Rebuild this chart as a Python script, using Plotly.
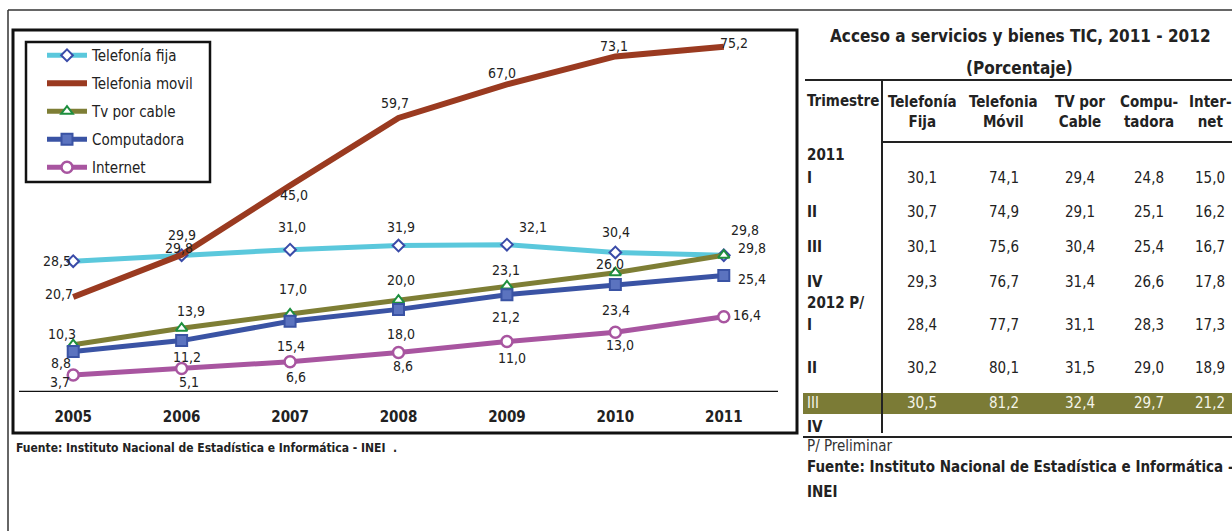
import plotly.graph_objects as go

# ---------------- data ----------------
years = ["2005", "2006", "2007", "2008", "2009", "2010", "2011"]
fija = [28.5, 29.8, 31.0, 31.9, 32.1, 30.4, 29.8]
movil = [20.7, 29.9, 45.0, 59.7, 67.0, 73.1, 75.2]
cable = [10.3, 13.9, 17.0, 20.0, 23.1, 26.0, 29.8]
compu = [8.8, 11.2, 15.4, 18.0, 21.2, 23.4, 25.4]
internet = [3.7, 5.1, 6.6, 8.6, 11.0, 13.0, 16.4]

table_title = "Acceso a servicios y bienes TIC, 2011 - 2012"
table_subtitle = "(Porcentaje)"
table_headers = ["Telefonía<br>Fija", "Telefonia<br>Móvil", "TV por<br>Cable", "Compu-<br>tadora", "Inter-<br>net"]
row_labels = ["2011", "I", "II", "III", "IV", "2012 P/", "I", "II", "III", "IV"]
row_values = [
    None,
    [30.1, 74.1, 29.4, 24.8, 15.0],
    [30.7, 74.9, 29.1, 25.1, 16.2],
    [30.1, 75.6, 30.4, 25.4, 16.7],
    [29.3, 76.7, 31.4, 26.6, 17.8],
    None,
    [28.4, 77.7, 31.1, 28.3, 17.3],
    [30.2, 80.1, 31.5, 29.0, 18.9],
    [30.5, 81.2, 32.4, 29.7, 21.2],
    None,
]
highlight_row = 8

FONT = "Liberation Sans Narrow, Arial Narrow, DejaVu Sans Condensed, sans-serif"

def fmt(v):
    return f"{v:.1f}".replace(".", ",")

# ---------------- layout geometry (reference pixels) ----------------
W, H = 1232, 531
L, R, T, B = 19, 778, 35, 392

def fx(px):
    return (px - L) / (R - L)

def fy(py):
    return (B - py) / (B - T)

fig = go.Figure()
annotations = []

# label offsets in pixels (dx right, dy down) relative to each point
series = [
    dict(name="Telefonía fija", vals=fija, color="#5BC8DC", width=5,
         marker=dict(symbol="diamond", size=9, color="white", line=dict(color="#3A4BA8", width=2)),
         offs=[(-16, 0), (-3, -7), (2, -23), (2, -19), (26, -18), (1, -20), (21, -25)]),
    dict(name="Telefonia movil", vals=movil, color="#9A3A20", width=6, marker=None,
         offs=[(-14, -3), (0, -20), (4, 10), (-4, -15), (-5, -11), (-1, -10), (10, -4)]),
    dict(name="Tv por cable", vals=cable, color="#7E7E35", width=5,
         marker=dict(symbol="triangle-up", size=10, color="white", line=dict(color="#1E8F3E", width=2)),
         offs=[(-11, -11), (9, -17), (3, -25), (2, -20), (-1, -16), (-5, -9), (28, -7)]),
    dict(name="Computadora", vals=compu, color="#3A53A4", width=5,
         marker=dict(symbol="square", size=11, color="#5B73BF", line=dict(color="#3A53A4", width=2)),
         offs=[(-12, 11), (5, 16), (1, 25), (2, 25), (-1, 22), (1, 25), (28, 4)]),
    dict(name="Internet", vals=internet, color="#A855A0", width=5,
         marker=dict(symbol="circle", size=11, color="white", line=dict(color="#A855A0", width=2.5)),
         offs=[(-13, 7), (7, 13), (6, 15), (4, 13), (5, 16), (5, 13), (23, -2)]),
]

for s in series:
    kw = dict(x=years, y=s["vals"], name=s["name"], legendgroup=s["name"],
              line=dict(color=s["color"], width=s["width"]), hoverinfo="skip", cliponaxis=False)
    if s["marker"] is None:
        kw["mode"] = "lines"
    else:
        kw["mode"] = "lines+markers"
        kw["marker"] = s["marker"]
    fig.add_trace(go.Scatter(**kw))
    # category axis: annotation x is the category's serial index
    for idx, (yv, (dx, dy)) in enumerate(zip(s["vals"], s["offs"])):
        annotations.append(dict(xref="x", yref="y", x=idx, y=yv, text=fmt(yv), showarrow=False,
                                xshift=dx, yshift=-dy, xanchor="center", yanchor="middle",
                                font=dict(family=FONT, size=14, color="#222222")))

shapes = []

def line(x0, y0, x1, y1, w=2, c="#222222"):
    shapes.append(dict(type="line", xref="paper", yref="paper",
                       x0=fx(x0), y0=fy(y0), x1=fx(x1), y1=fy(y1),
                       line=dict(color=c, width=w)))

def text(px, py, s, size=15, bold=False, anchor="center", color="#222222"):
    annotations.append(dict(xref="paper", yref="paper", x=fx(px), y=fy(py),
                            text=f"<b>{s}</b>" if bold else s, showarrow=False,
                            xanchor=anchor, yanchor="middle",
                            font=dict(family=FONT, size=size, color=color)))

# outer thin frame
line(8, 10, W + 5, 10, 1.5, "#333333")
line(8, 10, 8, H + 5, 1.5, "#333333")
# chart frame
shapes.append(dict(type="rect", xref="paper", yref="paper",
                   x0=fx(13), y0=fy(30), x1=fx(797), y1=fy(433),
                   line=dict(color="#111111", width=3)))
# legend box
shapes.append(dict(type="rect", xref="paper", yref="paper",
                   x0=fx(26), y0=fy(42), x1=fx(210), y1=fy(182),
                   line=dict(color="#111111", width=2.5)))

# left footer
text(14, 448, "Fuente: Instituto Nacional de Estadística e Informática - INEI  .", 12, True, "left")

# ---------------- table ----------------
text(1020, 36, table_title, 17, True)
text(1019, 68, table_subtitle, 17, True)
line(805, 80, W + 5, 80)
line(882, 80, 882, 433)
line(882, 142, W + 5, 142)
line(803, 437, W + 5, 437)

col_x = [922, 1004, 1080, 1149, 1210]
row_y = [155, 178, 212, 247, 282, 303, 325, 368, 403, 427]

text(805, 101, "Trimestre", 15, True, "left")
for cx, h in zip(col_x, table_headers):
    annotations.append(dict(xref="paper", yref="paper", x=fx(cx), y=fy(112),
                            text="<b>" + h + "</b>", showarrow=False,
                            xanchor="center", yanchor="middle", align="center",
                            font=dict(family=FONT, size=15, color="#222222")))

# highlight band
shapes.append(dict(type="rect", xref="paper", yref="paper", layer="below",
                   x0=fx(803), y0=fy(393), x1=fx(W + 5), y1=fy(414),
                   fillcolor="#7B7B36", line=dict(width=0)))

for i, (lab, vals) in enumerate(zip(row_labels, row_values)):
    col = "#F4F4E8" if i == highlight_row else "#222222"
    text(805, row_y[i], lab, 15, i != highlight_row, "left", col)
    if vals:
        for cx, v in zip(col_x, vals):
            text(cx, row_y[i], fmt(v), 15, False, "center", col)

text(805, 446, "P/ Preliminar", 15, False, "left", "#333333")
text(805, 467, "Fuente: Instituto Nacional de Estadística e Informática -", 15, True, "left")
text(805, 492, "INEI", 15, True, "left")

fig.update_layout(
    width=W, height=H,
    margin=dict(l=L, r=W - R, t=T, b=H - B, pad=0),
    paper_bgcolor="white", plot_bgcolor="white",
    separators=",.",
    showlegend=True,
    legend=dict(x=fx(42), y=fy(39), xanchor="left", yanchor="top",
                borderwidth=0, bgcolor="rgba(0,0,0,0)",
                font=dict(family=FONT, size=15, color="#222222"),
                tracegroupgap=5.5, itemwidth=40),
    xaxis=dict(type="category", range=[-0.5, 6.5], showgrid=False, zeroline=False,
               showline=False, ticks="", ticklabelstandoff=14,
               tickfont=dict(family=FONT, size=15, color="#222222", weight="bold")),
    yaxis=dict(range=[0, (B - T) / 4.59], visible=False, showgrid=False, zeroline=False),
    shapes=shapes + [dict(type="line", xref="paper", yref="y", x0=0, x1=1, y0=0, y1=0,
                          line=dict(color="#111111", width=2.5))],
    annotations=annotations,
)

fig.write_html(
    "out.html",
    config={"displayModeBar": False},
    post_script="document.body.style.margin='0';document.body.style.overflow='hidden';",
)
